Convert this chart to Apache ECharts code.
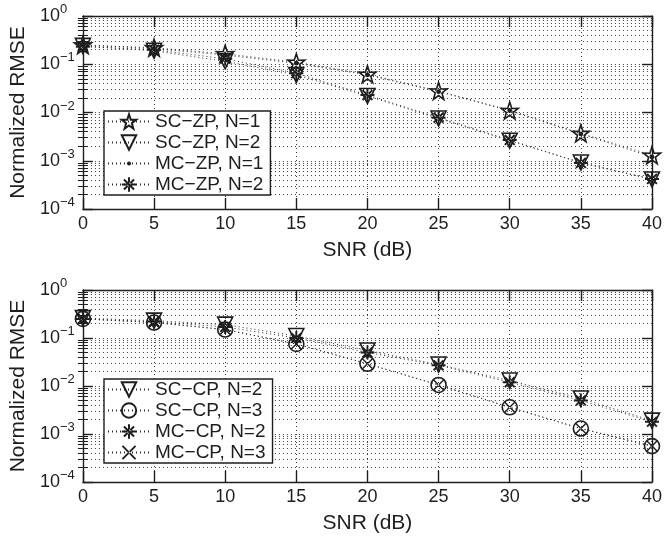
<!DOCTYPE html>
<html>
<head>
<meta charset="utf-8">
<script src="https://cdn.jsdelivr.net/npm/echarts@6/dist/echarts.min.js"></script>
<style>html,body{margin:0;padding:0;background:#fff}#c{width:665px;height:538px}</style>
</head>
<body>
<div id="c"></div>
<script>
// ---- data ----
const snr = [0, 5, 10, 15, 20, 25, 30, 35, 40];
const xTicks = [0, 5, 10, 15, 20, 25, 30, 35, 40];
const decades = [1e-4, 1e-3, 1e-2, 1e-1, 1];
const minorMult = [2, 3, 4, 5, 6, 7, 8, 9];

// top panel (ZP)
const scZp1 = [0.25, 0.22, 0.165, 0.11, 0.062, 0.028, 0.011, 0.0037, 0.0013];
const scZp2 = [0.24, 0.19, 0.115, 0.06, 0.022, 0.0075, 0.0026, 0.00092, 0.00041];
const mcZp1 = [0.25, 0.21, 0.155, 0.105, 0.06, 0.027, 0.011, 0.0036, 0.0012];
const mcZp2 = [0.23, 0.2, 0.13, 0.065, 0.023, 0.0078, 0.0027, 0.0009, 0.00042];
// bottom panel (CP)
const scCp2 = [0.26, 0.23, 0.19, 0.11, 0.055, 0.028, 0.013, 0.0055, 0.0019];
const scCp3 = [0.25, 0.21, 0.15, 0.075, 0.029, 0.0105, 0.0036, 0.0013, 0.00056];
const mcCp2 = [0.25, 0.22, 0.17, 0.1, 0.05, 0.027, 0.012, 0.005, 0.0018];
const mcCp3 = [0.25, 0.21, 0.15, 0.075, 0.029, 0.0105, 0.0036, 0.0013, 0.00056];

const namesTop = ['SC\u2212ZP, N=1', 'SC\u2212ZP, N=2', 'MC\u2212ZP, N=1', 'MC\u2212ZP, N=2'];
const namesBot = ['SC\u2212CP, N=2', 'SC\u2212CP, N=3', 'MC\u2212CP, N=2', 'MC\u2212CP, N=3'];

// ---- styles ----
const INK = '#1e1e1e';
const FONT = 'Liberation Sans, Arial, sans-serif';
const STAR = 'path://M50 0 L61.8 35.1 L98.1 34.5 L69 56.7 L79.4 91.5 L50 71 L20.6 91.5 L31 56.7 L1.9 34.5 L38.2 35.1 Z';
const TRI = 'path://M0 0 L100 0 L50 87 Z';
const DOT = 'path://M0 0 M100 100 M50 36 A14 14 0 1 1 50 64 A14 14 0 1 1 50 36 Z';
const AST = 'path://M43 0 L57 0 L57 100 L43 100 Z M0 43 L100 43 L100 57 L0 57 Z ' +
  'M10.1 19.9 L19.9 10.1 L89.9 80.1 L80.1 89.9 Z M89.9 19.9 L80.1 10.1 L10.1 80.1 L19.9 89.9 Z';
const XMK = 'path://M11.5 18.5 L18.5 11.5 L88.5 81.5 L81.5 88.5 Z M88.5 18.5 L81.5 11.5 L11.5 81.5 L18.5 88.5 Z';

const minorVals = [];
decades.slice(0, -1).forEach(d => minorMult.forEach(m => minorVals.push(+(d * m).toPrecision(3))));

const dotted = { color: '#3a3a3a', width: 1, type: [1, 3] };

function supLabel(v) {
  const e = Math.round(Math.log10(v));
  return '{b|10}{s|' + (e === 0 ? '0' : '\u2212' + (-e)) + '}';
}

function xAxes(gi) {
  return [
    {
      gridIndex: gi, type: 'value', min: 0, max: 40, interval: 5, position: 'bottom',
      axisLine: { show: true, onZero: false, lineStyle: { color: INK, width: 1.4 } },
      axisTick: { show: true, inside: true, length: 11, lineStyle: { color: INK, width: 1.4 } },
      axisLabel: { show: true, fontSize: 18, color: INK, fontFamily: FONT, margin: 6,
        formatter: v => (xTicks.indexOf(v) >= 0 ? String(v) : '') },
      splitLine: { show: true, lineStyle: dotted },
      name: 'SNR (dB)', nameLocation: 'middle', nameGap: 31,
      nameTextStyle: { fontSize: 21, color: INK, fontFamily: FONT }
    },
    {
      gridIndex: gi, type: 'value', min: 0, max: 40, interval: 5, position: 'top',
      axisLine: { show: true, onZero: false, lineStyle: { color: INK, width: 1.4 } },
      axisTick: { show: true, inside: true, length: 11, lineStyle: { color: INK, width: 1.4 } },
      axisLabel: { show: false }, splitLine: { show: false }
    }
  ];
}

function yAxes(gi, withName) {
  const base = { gridIndex: gi, type: 'log', logBase: 10, min: 1e-4, max: 1 };
  return [
    Object.assign({}, base, {
      position: 'left',
      axisLine: { show: true, onZero: false, lineStyle: { color: INK, width: 1.4 } },
      axisTick: { show: true, inside: true, length: 10, lineStyle: { color: INK, width: 1.4 } },
      axisLabel: { show: true, align: 'left', margin: 43, formatter: supLabel,
        rich: {
          b: { fontSize: 18, color: INK, fontFamily: FONT, lineHeight: 26, verticalAlign: 'middle' },
          s: { fontSize: 13, color: INK, fontFamily: FONT, lineHeight: 13, verticalAlign: 'top' }
        } },
      splitLine: { show: true, lineStyle: dotted },
      name: withName ? 'Normalized RMSE' : '', nameLocation: 'middle', nameGap: 50,
      nameTextStyle: { fontSize: 21, color: INK, fontFamily: FONT }
    }),
    Object.assign({}, base, {
      position: 'right',
      axisLine: { show: true, onZero: false, lineStyle: { color: INK, width: 1.4 } },
      axisTick: { show: true, inside: true, length: 10, lineStyle: { color: INK, width: 1.4 } },
      axisLabel: { show: false }, splitLine: { show: false }
    }),
    Object.assign({}, base, {
      position: 'left',
      axisLine: { show: false },
      axisTick: { show: true, inside: true, length: 5, customValues: minorVals, lineStyle: { color: INK, width: 1 } },
      axisLabel: { show: false },
      splitLine: { show: true, lineStyle: dotted }
    }),
    Object.assign({}, base, {
      position: 'right',
      axisLine: { show: false },
      axisTick: { show: true, inside: true, length: 5, customValues: minorVals, lineStyle: { color: INK, width: 1 } },
      axisLabel: { show: false }, splitLine: { show: false }
    })
  ];
}

function mkSeries(name, vals, xi, yi, symbol, size, filled) {
  return {
    name: name, type: 'line', xAxisIndex: xi, yAxisIndex: yi,
    data: snr.map((x, i) => [x, vals[i]]),
    symbol: symbol, symbolSize: size, showSymbol: true,
    lineStyle: { color: '#2a2a2a', width: 1, type: [1, 3] },
    itemStyle: filled ? { color: INK, borderWidth: 0 } : { color: 'rgba(255,255,255,0)', borderColor: INK, borderWidth: 1.6 },
    emphasis: { disabled: true }, animation: false, z: 3
  };
}

function legend(names, top) {
  return {
    data: names, orient: 'vertical', left: 104, top: top,
    backgroundColor: '#fff', borderColor: INK, borderWidth: 1.4,
    padding: [1, 7, 1, 3], itemGap: 2, itemWidth: 42, itemHeight: 18,
    textStyle: { fontSize: 19, color: INK, fontFamily: FONT, lineHeight: 18 },
    selectedMode: false, z: 10
  };
}

const chart = echarts.init(document.getElementById('c'), null, { renderer: 'canvas' });
chart.setOption({
  backgroundColor: '#fff',
  animation: false,
  grid: [
    { left: 78, right: 7, top: 16, height: 193 },
    { left: 78, right: 7, top: 290, height: 192 }
  ],
  xAxis: xAxes(0).concat(xAxes(1)),
  yAxis: yAxes(0, true).concat(yAxes(1, true)),
  legend: [legend(namesTop, 111), legend(namesBot, 379)],
  series: [
    mkSeries(namesTop[0], scZp1, 0, 0, STAR, 17, false),
    mkSeries(namesTop[1], scZp2, 0, 0, TRI, 15, false),
    mkSeries(namesTop[2], mcZp1, 0, 0, DOT, 17, true),
    mkSeries(namesTop[3], mcZp2, 0, 0, AST, 14, true),
    mkSeries(namesBot[0], scCp2, 2, 4, TRI, 15, false),
    mkSeries(namesBot[1], scCp3, 2, 4, 'circle', 15, false),
    mkSeries(namesBot[2], mcCp2, 2, 4, AST, 14, true),
    mkSeries(namesBot[3], mcCp3, 2, 4, XMK, 11, true)
  ]
});
</script>
</body>
</html>
